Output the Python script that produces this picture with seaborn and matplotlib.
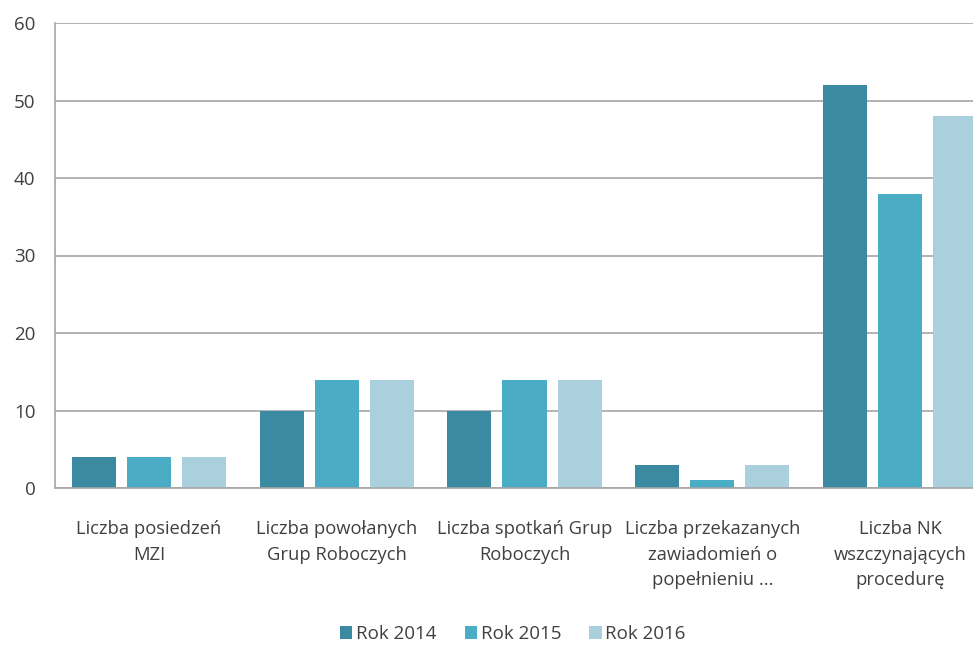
import matplotlib
matplotlib.use("Agg")
import matplotlib.pyplot as plt
import seaborn as sns
import pandas as pd

categories = [
    "Liczba posiedzeń\nMZI",
    "Liczba powołanych\nGrup Roboczych",
    "Liczba spotkań Grup\nRoboczych",
    "Liczba przekazanych\nzawiadomień o\npopełnieniu ...",
    "Liczba NK\nwszczynających\nprocedurę",
]
series = ["Rok 2014", "Rok 2015", "Rok 2016"]
rok_2014 = [4, 10, 10, 3, 52]
rok_2015 = [4, 14, 14, 1, 38]
rok_2016 = [4, 14, 14, 3, 48]
colors = ["#3C8AA1", "#4BACC6", "#AACFDD"]

rows = []
for s, vals in zip(series, [rok_2014, rok_2015, rok_2016]):
    for c, v in zip(categories, vals):
        rows.append({"cat": c, "series": s, "value": v})
df = pd.DataFrame(rows)

sns.set_theme(style="white")
plt.rcParams["font.family"] = ["Open Sans", "DejaVu Sans"]

fig = plt.figure(figsize=(9.73, 6.46), dpi=100)
ax = fig.add_axes([55 / 973, 1 - 488 / 646, 939 / 973, (488 - 23) / 646])

sns.barplot(data=df, x="cat", y="value", hue="series", palette=colors,
            width=0.88, gap=0.2, ax=ax, legend=True, saturation=1, linewidth=0)

ax.set_xlim(-0.5, 4.5)
ax.set_ylim(0, 60)
ax.set_yticks(range(0, 61, 10))
ax.yaxis.grid(True, color="#A6A6A6", linewidth=1.2)
ax.set_axisbelow(True)
for sp in ["top", "right"]:
    ax.spines[sp].set_visible(False)
for sp in ["left", "bottom"]:
    ax.spines[sp].set_color("#A6A6A6")
    ax.spines[sp].set_linewidth(1.2)
ax.set_xlabel("")
ax.set_ylabel("")
ax.tick_params(axis="y", labelsize=13.5, colors="#404040", length=0, pad=14)
ax.tick_params(axis="x", labelsize=13.2, colors="#404040", length=0, pad=23)
for lbl in ax.get_xticklabels():
    lbl.set_linespacing(1.55)
    lbl.set_horizontalalignment("center")

handles, labels = ax.get_legend_handles_labels()
ax.legend(handles, labels, loc="center", bbox_to_anchor=(513 / 973, 1 - 634 / 646),
          bbox_transform=fig.transFigure, ncol=3, frameon=False, fontsize=13.5,
          handlelength=0.65, handleheight=0.65, handletextpad=0.2, columnspacing=1.5,
          labelcolor="#404040")

fig.savefig("out.png", dpi=100)
